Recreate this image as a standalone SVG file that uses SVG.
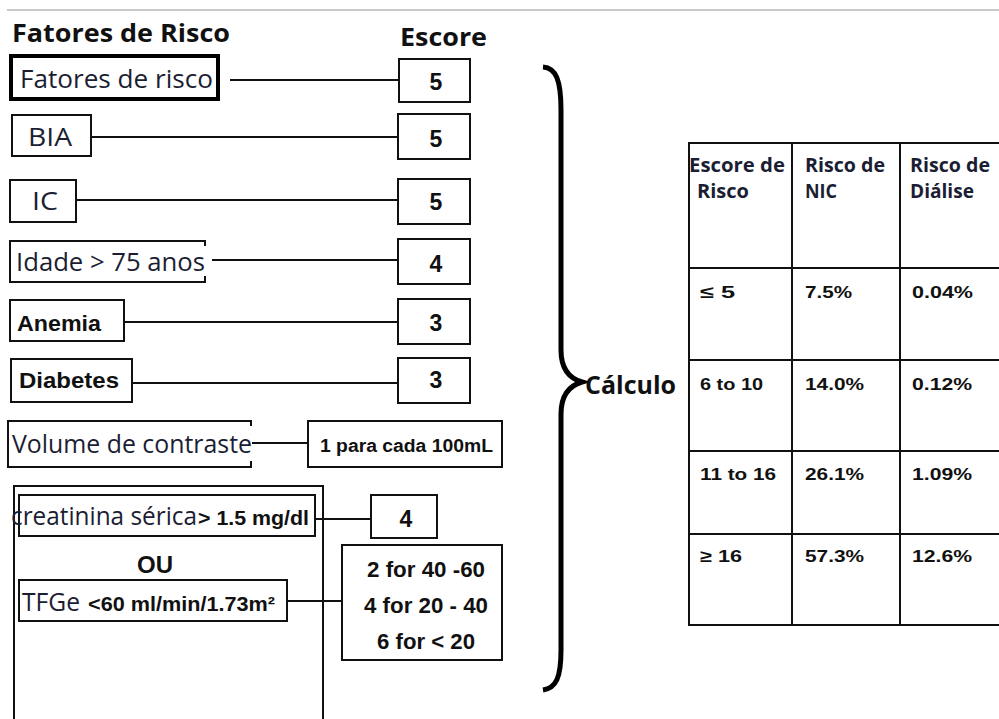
<svg xmlns="http://www.w3.org/2000/svg" width="999" height="719" viewBox="0 0 999 719">
<style>
.box{fill:#fff;stroke:#111;stroke-width:2}
.ln{stroke:#111;stroke-width:2;fill:none}
.cal{font-family:"Open Sans","Noto Sans",sans-serif;fill:#1b1e33}
.calb{font-family:"Open Sans","Noto Sans",sans-serif;font-weight:bold;fill:#111}
.ar{font-family:"Liberation Sans",Arial,sans-serif;font-weight:bold;fill:#111}
.num{font-family:"Liberation Sans",Arial,sans-serif;font-weight:bold;fill:#111;font-size:23px;text-anchor:middle}
.tb{font-family:"Liberation Sans",Arial,sans-serif;font-weight:bold;fill:#111;font-size:17px}
.th{font-family:"Open Sans","Noto Sans",sans-serif;font-weight:bold;fill:#1b1e33;font-size:19px}
</style>
<rect width="999" height="719" fill="#fff"/>
<line x1="7" y1="10" x2="999" y2="10" stroke="#c8c8c8" stroke-width="2"/>
<text class="calb" x="12" y="42" font-size="25" textLength="218" lengthAdjust="spacingAndGlyphs">Fatores de Risco</text>
<text class="calb" x="400" y="46" font-size="25" textLength="87" lengthAdjust="spacingAndGlyphs">Escore</text>

<g id="connectors">
<line class="ln" x1="230" y1="80" x2="399" y2="80"/>
<line class="ln" x1="91" y1="137" x2="398" y2="137"/>
<line class="ln" x1="76" y1="200" x2="398" y2="200"/>
<line class="ln" x1="212" y1="260" x2="398" y2="260"/>
<line class="ln" x1="124" y1="322" x2="398" y2="322"/>
<line class="ln" x1="132" y1="383" x2="398" y2="383"/>
<line class="ln" x1="252" y1="443" x2="308" y2="443"/>
<line class="ln" x1="315" y1="519" x2="371" y2="519"/>
<line class="ln" x1="287" y1="601" x2="342" y2="601"/>
</g>

<g id="n-fatores">
<rect x="11" y="56" width="207" height="43" fill="#fff" stroke="#000" stroke-width="4"/>
<text class="cal" x="20" y="88" font-size="25" textLength="193" lengthAdjust="spacingAndGlyphs">Fatores de risco</text>
</g>
<g id="s-fatores"><rect class="box" x="399" y="59" width="71" height="43"/><text class="num" x="436" y="90">5</text></g>

<g id="n-bia">
<rect class="box" x="12" y="115" width="79" height="41"/>
<text class="cal" x="28" y="146" font-size="26" textLength="44" lengthAdjust="spacingAndGlyphs">BIA</text>
</g>
<g id="s-bia"><rect class="box" x="398" y="114" width="72" height="45"/><text class="num" x="436" y="147">5</text></g>

<g id="n-ic">
<rect class="box" x="10" y="180" width="66" height="42"/>
<text class="cal" x="32" y="210" font-size="26" textLength="26" lengthAdjust="spacingAndGlyphs">IC</text>
</g>
<g id="s-ic"><rect class="box" x="398" y="179" width="72" height="45"/><text class="num" x="436" y="210">5</text></g>

<g id="n-idade">
<path class="ln" d="M205,246 V241 H10 V282 H205 V276"/>
<text class="cal" x="16" y="271" font-size="25" textLength="189" lengthAdjust="spacingAndGlyphs">Idade &gt; 75 anos</text>
</g>
<g id="s-idade"><rect class="box" x="398" y="239" width="72" height="45"/><text class="num" x="436" y="272">4</text></g>

<g id="n-anemia">
<rect class="box" x="10" y="300" width="114" height="41"/>
<text class="ar" x="17" y="331" font-size="22" textLength="84" lengthAdjust="spacingAndGlyphs">Anemia</text>
</g>
<g id="s-anemia"><rect class="box" x="398" y="299" width="72" height="45"/><text class="num" x="436" y="331">3</text></g>

<g id="n-diabetes">
<rect class="box" x="11" y="359" width="121" height="43"/>
<text class="ar" x="19" y="388" font-size="22" textLength="100" lengthAdjust="spacingAndGlyphs">Diabetes</text>
</g>
<g id="s-diabetes"><rect class="box" x="398" y="358" width="72" height="45"/><text class="num" x="436" y="388">3</text></g>

<g id="n-volume">
<path class="ln" d="M251,426 V421 H8 V467 H251 V461"/>
<text class="cal" x="12" y="453" font-size="25" textLength="240" lengthAdjust="spacingAndGlyphs">Volume de contraste</text>
</g>
<g id="s-volume"><rect class="box" x="308" y="421" width="194" height="46"/><text class="ar" x="320" y="452" font-size="18" textLength="173" lengthAdjust="spacingAndGlyphs">1 para cada 100mL</text></g>

<g id="n-renal">
<path class="ln" d="M14,719 V486 H323 V719"/>
<g id="n-creat">
<rect class="box" x="19" y="495" width="296" height="41"/>
<text class="cal" x="11" y="525" font-size="25" textLength="186" lengthAdjust="spacingAndGlyphs">creatinina sérica</text>
<text class="ar" x="198" y="525" font-size="20" textLength="111" lengthAdjust="spacingAndGlyphs">&gt; 1.5 mg/dl</text>
</g>
<text class="ar" x="155" y="573" font-size="23" text-anchor="middle" textLength="36" lengthAdjust="spacingAndGlyphs">OU</text>
<g id="n-tfge">
<rect class="box" x="19" y="580" width="268" height="41"/>
<text class="cal" x="22" y="611" font-size="25" textLength="58" lengthAdjust="spacingAndGlyphs">TFGe</text>
<text class="ar" x="88" y="611" font-size="20" textLength="187" lengthAdjust="spacingAndGlyphs">&lt;60 ml/min/1.73m²</text>
</g>
</g>
<g id="s-creat"><rect class="box" x="371" y="495" width="66" height="43"/><text class="num" x="406" y="527">4</text></g>
<g id="s-tfge">
<rect class="box" x="342" y="545" width="160" height="115"/>
<text class="ar" x="367" y="577" font-size="22" textLength="118" lengthAdjust="spacingAndGlyphs">2 for 40 -60</text>
<text class="ar" x="364" y="613" font-size="22" textLength="124" lengthAdjust="spacingAndGlyphs">4 for 20 - 40</text>
<text class="ar" x="377" y="649" font-size="22" textLength="98" lengthAdjust="spacingAndGlyphs">6 for &lt; 20</text>
</g>

<g id="brace">
<path d="M543,67 C556,68 561,80 561,110 L561,350 C561,368 568,378 582,382 C568,386 561,396 561,414 L561,650 C561,678 556,688 543,690" fill="none" stroke="#000" stroke-width="5"/>
</g>
<text class="calb" x="585" y="394" font-size="25" fill="#1b1e33" textLength="91" lengthAdjust="spacingAndGlyphs">Cálculo</text>

<g id="table">
<g class="ln" stroke-width="3">
<line x1="688" y1="143" x2="999" y2="143"/>
<line x1="688" y1="268" x2="999" y2="268"/>
<line x1="688" y1="360" x2="999" y2="360"/>
<line x1="688" y1="451" x2="999" y2="451"/>
<line x1="688" y1="534" x2="999" y2="534"/>
<line x1="688" y1="625" x2="999" y2="625"/>
<line x1="689" y1="142" x2="689" y2="626"/>
<line x1="792" y1="142" x2="792" y2="626"/>
<line x1="900" y1="142" x2="900" y2="626"/>
</g>
<text class="th" x="689" y="172" textLength="96" lengthAdjust="spacingAndGlyphs">Escore de</text>
<text class="th" x="697" y="198" textLength="52" lengthAdjust="spacingAndGlyphs">Risco</text>
<text class="th" x="805" y="172" textLength="80" lengthAdjust="spacingAndGlyphs">Risco de</text>
<text class="th" x="805" y="198" textLength="32" lengthAdjust="spacingAndGlyphs">NIC</text>
<text class="th" x="910" y="172" textLength="80" lengthAdjust="spacingAndGlyphs">Risco de</text>
<text class="th" x="910" y="198" textLength="64" lengthAdjust="spacingAndGlyphs">Diálise</text>
<text class="tb" x="700" y="298" textLength="35" lengthAdjust="spacingAndGlyphs">≤ 5</text>
<text class="tb" x="805" y="298" textLength="47" lengthAdjust="spacingAndGlyphs">7.5%</text>
<text class="tb" x="912" y="298" textLength="61" lengthAdjust="spacingAndGlyphs">0.04%</text>
<text class="tb" x="700" y="390" textLength="63" lengthAdjust="spacingAndGlyphs">6 to 10</text>
<text class="tb" x="805" y="390" textLength="59" lengthAdjust="spacingAndGlyphs">14.0%</text>
<text class="tb" x="912" y="390" textLength="60" lengthAdjust="spacingAndGlyphs">0.12%</text>
<text class="tb" x="700" y="480" textLength="76" lengthAdjust="spacingAndGlyphs">11 to 16</text>
<text class="tb" x="805" y="480" textLength="59" lengthAdjust="spacingAndGlyphs">26.1%</text>
<text class="tb" x="912" y="480" textLength="60" lengthAdjust="spacingAndGlyphs">1.09%</text>
<text class="tb" x="700" y="562" textLength="42" lengthAdjust="spacingAndGlyphs">≥ 16</text>
<text class="tb" x="805" y="562" textLength="59" lengthAdjust="spacingAndGlyphs">57.3%</text>
<text class="tb" x="912" y="562" textLength="60" lengthAdjust="spacingAndGlyphs">12.6%</text>
</g>
</svg>
